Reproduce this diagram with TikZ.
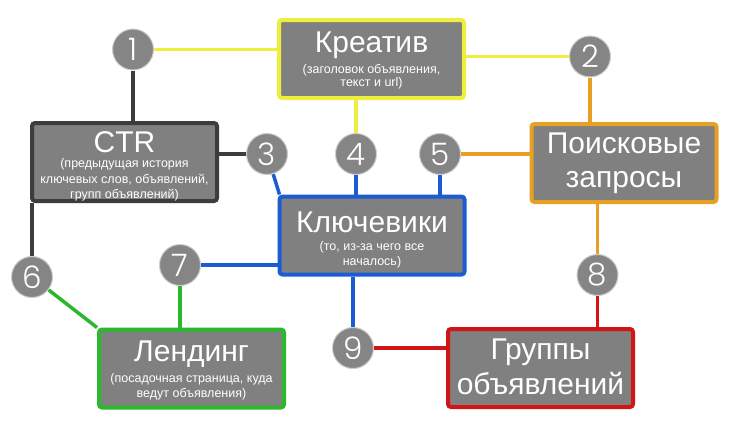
\documentclass[tikz,border=0pt]{standalone}
\usepackage{fontspec}
\setmainfont{Liberation Sans}
\newfontfamily\digfont{Poppins Light}
\usetikzlibrary{backgrounds}
\definecolor{boxgray}{RGB}{128,128,128}
\definecolor{numgray}{RGB}{133,133,133}
\definecolor{numedge}{RGB}{205,205,205}
\definecolor{cyel}{RGB}{238,238,60}
\definecolor{cora}{RGB}{232,160,36}
\definecolor{cblu}{RGB}{28,92,210}
\definecolor{cgrn}{RGB}{44,184,44}
\definecolor{cred}{RGB}{210,20,20}
\definecolor{cdrk}{RGB}{60,60,60}
\tikzset{
  box/.style={rectangle, rounded corners=3pt, fill=boxgray, line width=4pt,
    minimum width=185pt, minimum height=78pt, inner sep=0pt},
  num/.style={circle, fill=numgray, draw=numedge, line width=1pt,
    minimum size=41pt, inner sep=0pt, text=white,
    font=\digfont\fontsize{31}{31}\selectfont},
  ttl/.style={anchor=base, text=white, inner sep=0pt,
    font=\fontsize{30}{30}\selectfont},
  sub/.style={anchor=base, text=white, inner sep=0pt,
    font=\fontsize{12.5}{15}\selectfont},
  conn/.style={line width=3.5pt},
}
\begin{document}
\begin{tikzpicture}[x=1pt,y=-1pt]
\useasboundingbox (0,0) rectangle (736,432);
% boxes
\node[box, draw=cyel] (kr) at (371.5,59) {};
\node[box, draw=cdrk] (ctr) at (124.5,162) {};
\node[box, draw=cora] (po) at (624,163) {};
\node[box, draw=cblu] (kl) at (372,235.5) {};
\node[box, draw=cgrn] (le) at (191.5,368.5) {};
\node[box, draw=cred] (gr) at (540.5,368) {};
% titles
\node[ttl] (krt) at (371.5,52) {Креатив};
\node[sub] (krs1) at (371.5,73) {(заголовок объявления,};
\node[sub] (krs2) at (371.5,86) {текст и url)};
\node[ttl] (ctrt) at (124.5,152) {CTR};
\node[sub] (ctrs1) at (124.5,167) {(предыдущая история};
\node[sub] (ctrs2) at (124.5,183) {ключевых слов, объявлений,};
\node[sub] (ctrs3) at (124.5,198) {групп объявлений)};
\node[ttl] (pot1) at (624,153) {Поисковые};
\node[ttl] (pot2) at (624,187) {запросы};
\node[ttl] (klt) at (372,232) {Ключевики};
\node[sub] (kls1) at (372,250) {(то, из-за чего все};
\node[sub] (kls2) at (372,265) {началось)};
\node[ttl] (let) at (191.5,361) {Лендинг};
\node[sub] (les1) at (191.5,382) {(посадочная страница, куда};
\node[sub] (les2) at (191.5,397) {ведут объявления)};
\node[ttl] (grt1) at (540.5,359) {Группы};
\node[ttl] (grt2) at (540.5,394) {объявлений};
% numbered circles
\node[num] (c1) at (133,49.5) {1};
\node[num] (c2) at (590,56.5) {2};
\node[num] (c3) at (267,154) {3};
\node[num] (c4) at (356,154) {4};
\node[num] (c5) at (440,154) {5};
\node[num] (c6) at (32,277) {6};
\node[num] (c7) at (180,265) {7};
\node[num] (c8) at (597.5,275) {8};
\node[num] (c9) at (353,348) {9};
% connectors
\begin{scope}[on background layer]
\fill[white] (0,0) rectangle (736,432);
\draw[conn, cyel] (c1) -- (kr.west |- c1);
\draw[conn, cdrk] (c1) -- (ctr.north -| c1);
\draw[conn, cyel] (kr.east |- c2) -- (c2);
\draw[conn, cora] (c2) -- (po.north -| c2);
\draw[conn, cdrk] (ctr.east |- c3) -- (c3);
\draw[conn, cblu] (c3) -- ([xshift=2pt]kl.north west);
\draw[conn, cyel] (kr.south -| c4) -- (c4);
\draw[conn, cblu] (c4) -- (kl.north -| c4);
\draw[conn, cora] (c5) -- (po.west |- c5);
\draw[conn, cblu] (c5) -- (kl.north -| c5);
\draw[conn, cdrk] (ctr.south -| c6) -- (c6);
\draw[conn, cgrn] (c6) -- (le.north west);
\draw[conn, cblu] (c7) -- (kl.west |- c7);
\draw[conn, cgrn] (c7) -- (le.north -| c7);
\draw[conn, cora] (po.south -| c8) -- (c8);
\draw[conn, cred] (c8) -- (gr.north -| c8);
\draw[conn, cblu] (kl.south -| c9) -- (c9);
\draw[conn, cred] (c9) -- (gr.west |- c9);
\end{scope}
\end{tikzpicture}
\end{document}
